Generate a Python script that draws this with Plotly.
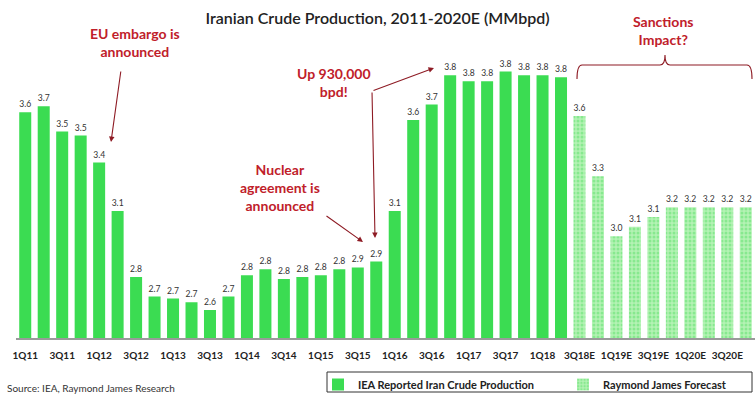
import plotly.graph_objects as go

# ---------------- data ----------------
quarters_actual = ["1Q11", "2Q11", "3Q11", "4Q11", "1Q12", "2Q12", "3Q12", "4Q12",
                   "1Q13", "2Q13", "3Q13", "4Q13", "1Q14", "2Q14", "3Q14", "4Q14",
                   "1Q15", "2Q15", "3Q15", "4Q15", "1Q16", "2Q16", "3Q16", "4Q16",
                   "1Q17", "2Q17", "3Q17", "4Q17", "1Q18", "2Q18"]
production_actual = [3.62, 3.65, 3.52, 3.50, 3.36, 3.11, 2.77, 2.67,
                     2.66, 2.64, 2.60, 2.67, 2.78, 2.81, 2.76, 2.77,
                     2.78, 2.81, 2.82, 2.85, 3.11, 3.58, 3.66, 3.81,
                     3.78, 3.78, 3.83, 3.81, 3.81, 3.80]
labels_actual = ["3.6", "3.7", "3.5", "3.5", "3.4", "3.1", "2.8", "2.7",
                 "2.7", "2.7", "2.6", "2.7", "2.8", "2.8", "2.8", "2.8",
                 "2.8", "2.8", "2.9", "2.9", "3.1", "3.6", "3.7", "3.8",
                 "3.8", "3.8", "3.8", "3.8", "3.8", "3.8"]

quarters_forecast = ["3Q18E", "4Q18E", "1Q19E", "2Q19E", "3Q19E",
                     "4Q19E", "1Q20E", "2Q20E", "3Q20E", "4Q20E"]
production_forecast = [3.60, 3.29, 2.98, 3.03, 3.08,
                       3.13, 3.13, 3.13, 3.13, 3.13]
labels_forecast = ["3.6", "3.3", "3.0", "3.1", "3.1",
                   "3.2", "3.2", "3.2", "3.2", "3.2"]

all_quarters = quarters_actual + quarters_forecast
tick_quarters = all_quarters[0::2]

# ---------------- geometry helpers (pixel -> paper) ----------------
W, H = 755, 394
ML, MR, MT, MB = 16, 0, 19, 56
PW, PH = W - ML - MR, H - MT - MB


def px(x):
    return (x - ML) / PW


def py(y):
    return (H - MB - y) / PH


GREEN = "#3BDC52"
LIGHT = "#B4F2B4"
RED = "#C0202A"
ARROW = "#8E1B24"
FONT = "Lato"

fig = go.Figure()
fig.add_trace(go.Bar(
    x=quarters_actual, y=production_actual, text=labels_actual,
    name="<b>IEA Reported Iran Crude Production</b>",
    marker=dict(color=GREEN, line=dict(width=0)),
    textposition="outside", cliponaxis=False,
    textfont=dict(size=9, color="#333", family=FONT),
))
fig.add_trace(go.Bar(
    x=quarters_forecast, y=production_forecast, text=labels_forecast,
    name="<b>Raymond James Forecast</b>",
    marker=dict(color=LIGHT, line=dict(width=0),
                pattern=dict(shape=".", size=4, solidity=0.45,
                             fgcolor="#5ADF6A", bgcolor=LIGHT)),
    textposition="outside", cliponaxis=False,
    textfont=dict(size=9, color="#333", family=FONT),
))

annotations = [
    dict(text="EU embargo is<br>announced", x=px(135), y=py(42)),
    dict(text="Up 930,000<br>bpd!", x=px(334), y=py(82)),
    dict(text="Nuclear<br>agreement is<br>announced", x=px(280), y=py(187)),
    dict(text="Sanctions<br>Impact?", x=px(663), y=py(31)),
]
annots = []
for a in annotations:
    annots.append(dict(xref="paper", yref="paper", showarrow=False,
                       xanchor="center", yanchor="middle",
                       font=dict(family=FONT, size=14, color=RED, weight="bold"),
                       **a))

arrows = [((121, 70), (111, 142)),
          ((372, 91), (375, 238)),
          ((372, 91), (434, 68)),
          ((325, 215), (363, 242))]
for (sx, sy), (ex, ey) in arrows:
    annots.append(dict(xref="paper", yref="paper", x=px(ex), y=py(ey),
                       axref="pixel", ayref="pixel", ax=sx - ex, ay=sy - ey,
                       showarrow=True, arrowhead=2, arrowsize=1, arrowwidth=1.1,
                       arrowcolor=ARROW, text=""))

annots.append(dict(xref="paper", yref="paper", x=px(5), y=py(388),
                   xanchor="left", yanchor="middle", showarrow=False,
                   text="Source: IEA, Raymond James Research",
                   font=dict(family=FONT, size=10, color="#333")))

bracket_pts = ("M {a},{b} Q {a},{c} {d},{c} L {e},{c} Q {f},{c} {f},{g} "
               "Q {f},{c} {h},{c} L {i},{c} Q {j},{c} {j},{b}").format(
    a=px(577), b=py(79), c=py(65), d=px(582), e=px(660), f=px(665),
    g=py(55), h=px(670), i=px(747), j=px(752))

shapes = [
    dict(type="path", xref="paper", yref="paper", path=bracket_pts,
         line=dict(color=ARROW, width=1.1)),
    dict(type="rect", xref="paper", yref="paper",
         x0=px(327), x1=px(752), y0=py(372), y1=py(392),
         line=dict(color="#333", width=1), fillcolor="rgba(0,0,0,0)"),
]

fig.update_layout(
    width=W, height=H,
    margin=dict(l=ML, r=MR, t=MT, b=MB, autoexpand=False),
    paper_bgcolor="white", plot_bgcolor="white",
    barmode="overlay", bargap=0.35,
    font=dict(family=FONT, color="#222"),
    title=dict(text="Iranian Crude Production, 2011-2020E (MMbpd)",
               x=0.5, xanchor="center", y=1 - 18 / H, yanchor="middle",
               font=dict(family=FONT, size=16, color="#222", weight=600)),
    xaxis=dict(categoryorder="array", categoryarray=all_quarters,
               tickmode="array", tickvals=tick_quarters,
               ticktext=[f"<b>{q}</b>" for q in tick_quarters],
               tickangle=0, showline=True, linecolor="#9a9a9a", linewidth=1.5,
               ticks="", ticklabelstandoff=7, showgrid=False,
               tickfont=dict(size=10, color="#222", family=FONT),
               range=[-0.5, len(all_quarters) - 0.5]),
    yaxis=dict(range=[2.456, 2.456 + PH / 194], visible=False, showgrid=False),
    legend=dict(orientation="h", x=px(318), y=py(370), xanchor="left", yanchor="top",
                font=dict(size=11, color="#222", family=FONT),
                bgcolor="rgba(0,0,0,0)", entrywidth=200, entrywidthmode="pixels",
                itemclick=False, tracegroupgap=0),
    annotations=annots,
    shapes=shapes,
)

fig.write_html("out.html")
